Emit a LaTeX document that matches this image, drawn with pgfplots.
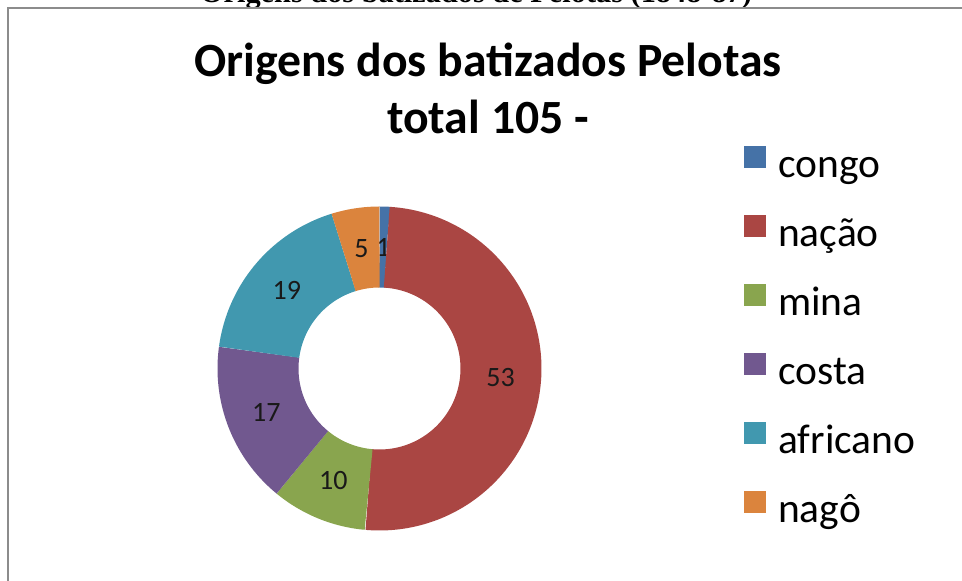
\documentclass[border=0pt]{standalone}
\usepackage{graphicx}
\usepackage{pgfplots}
\usepackage{pgfplotstable}
\pgfplotsset{compat=1.18}
\usepackage{fontspec}
\setmainfont{Carlito}
\newfontfamily\timesfont{Liberation Serif}
\definecolor{cCongo}{HTML}{4572A7}
\definecolor{cNacao}{HTML}{AA4643}
\definecolor{cMina}{HTML}{89A54E}
\definecolor{cCosta}{HTML}{71588F}
\definecolor{cAfricano}{HTML}{4198AF}
\definecolor{cNago}{HTML}{DB843D}
\definecolor{framegray}{HTML}{8C8C8C}

\pgfplotstableread{
value color
1 cCongo
53 cNacao
10 cMina
17 cCosta
19 cAfricano
5 cNago
}\origens

\tikzset{lbl/.style={font=\fontsize{28}{28}\selectfont, text=black!90, inner sep=0pt}}

\begin{document}
\begin{tikzpicture}
\def\cx{379.5}
\def\cy{212.5}
\def\rmid{121.5}
\def\total{0}
\pgfplotsforeachungrouped \i in {0,...,5}{%
  \pgfplotstablegetelem{\i}{value}\of\origens
  \pgfmathsetmacro\total{\total+\pgfplotsretval}}
\pgfmathsetmacro\unitang{360/\total}
\begin{axis}[
  scale only axis, width=962pt, height=581pt,
  xmin=0, xmax=962, ymin=0, ymax=581,
  hide axis, clip=false,
  legend style={draw=none, fill=none, inner sep=0pt,
    at={(axis cs:744,436)}, anchor=north west,
    row sep=27pt, column sep=12pt,
    font=\fontsize{41.5}{41.5}\selectfont,
    nodes={inner sep=0pt, text height=32pt, text depth=10pt}},
  legend cell align=left,
  legend image code/.code={\fill[#1, draw=none] (0pt,-1.5pt) rectangle (22pt,20.5pt);},
]
\def\cum{0}
\pgfplotsforeachungrouped \i in {0,...,5}{%
  \pgfplotstablegetelem{\i}{value}\of\origens \let\sval\pgfplotsretval
  \pgfplotstablegetelem{\i}{color}\of\origens \let\scol\pgfplotsretval
  \pgfmathsetmacro\aS{90-\unitang*\cum}%
  \pgfmathsetmacro\aE{90-\unitang*(\cum+\sval)}%
  \pgfmathsetmacro\aM{(\aS+\aE)/2}%
  \pgfmathsetmacro\lx{\cx+\rmid*cos(\aM)}%
  \pgfmathsetmacro\ly{\cy+\rmid*sin(\aM)}%
  \edef\tmp{\noexpand\addplot[forget plot, draw=\scol, line width=81pt, line join=round, domain=\aE:\aS, samples=120] ({\cx+\rmid*cos(x)},{\cy+\rmid*sin(x)});
    \noexpand\node[lbl] at (axis cs:\lx,\ly) {\sval};}%
  \tmp
  \pgfmathsetmacro\cum{\cum+\sval}%
}
\addlegendimage{fill=cCongo}\addlegendentry{congo}
\addlegendimage{fill=cNacao}\addlegendentry{nação}
\addlegendimage{fill=cMina}\addlegendentry{mina}
\addlegendimage{fill=cCosta}\addlegendentry{costa}
\addlegendimage{fill=cAfricano}\addlegendentry{africano}
\addlegendimage{fill=cNago}\addlegendentry{nagô}

\node[anchor=base, font=\bfseries\fontsize{47.7}{47.7}\selectfont, inner sep=0pt] at (axis cs:488,504) {Origens dos batizados Pelotas};
\node[anchor=base, font=\bfseries\fontsize{47.7}{47.7}\selectfont, inner sep=0pt] at (axis cs:488,447) {total 105 -};
\node[anchor=base, inner sep=0pt] at (axis cs:476,578) {\resizebox{552pt}{!}{\timesfont\bfseries Origens dos batizados de Pelotas (1848-87)}};
\draw[framegray, line width=2.5pt] (axis cs:8,0) -- (axis cs:8,573) -- (axis cs:962,573);
\end{axis}
\pgfresetboundingbox
\path (current axis.south west) rectangle (current axis.north east);
\end{tikzpicture}
\end{document}
